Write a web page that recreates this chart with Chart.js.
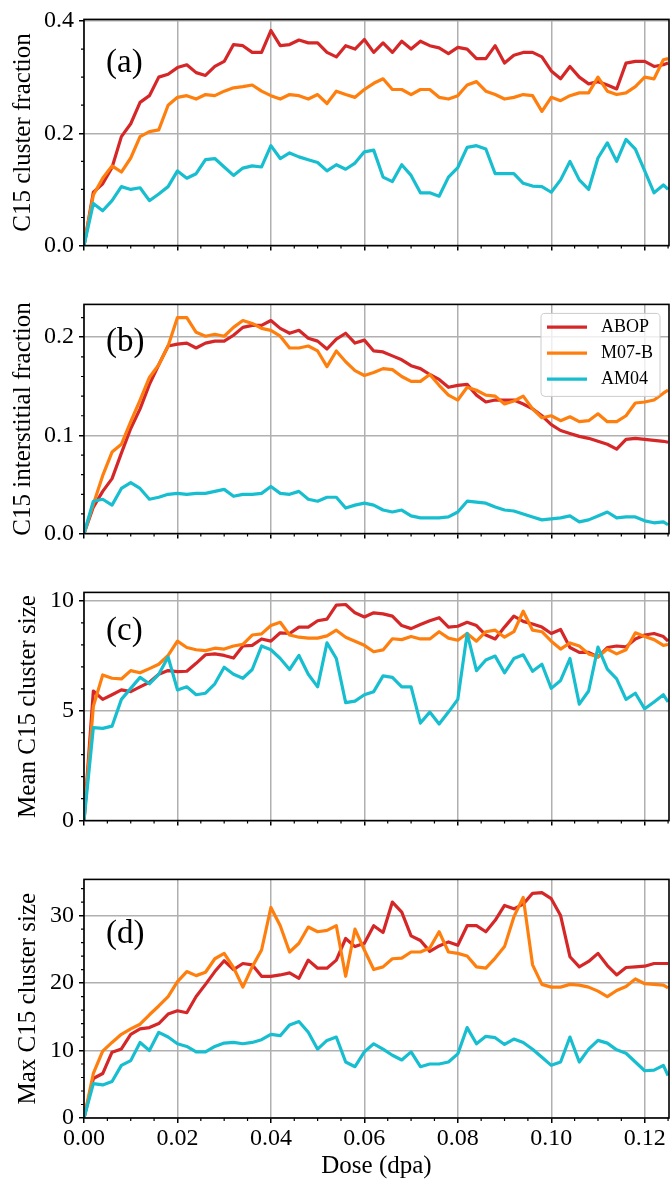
<!DOCTYPE html>
<html>
<head>
<meta charset="utf-8">
<script src="https://cdn.jsdelivr.net/npm/chart.js@4"></script>
<style>
  html, body { margin: 0; padding: 0; background: #fff; }
  #fig { position: relative; width: 670px; height: 1179px; }
  #fig canvas { position: absolute; left: 0; }
</style>
</head>
<body>
<div id="fig"></div>
<script>
// dose axis (dpa) shared by every panel
const dose = [0, 0.002, 0.004, 0.006, 0.008, 0.010, 0.012, 0.014, 0.016, 0.018,
  0.020, 0.022, 0.024, 0.026, 0.028, 0.030, 0.032, 0.034, 0.036, 0.038,
  0.040, 0.042, 0.044, 0.046, 0.048, 0.050, 0.052, 0.054, 0.056, 0.058,
  0.060, 0.062, 0.064, 0.066, 0.068, 0.070, 0.072, 0.074, 0.076, 0.078,
  0.080, 0.082, 0.084, 0.086, 0.088, 0.090, 0.092, 0.094, 0.096, 0.098,
  0.100, 0.102, 0.104, 0.106, 0.108, 0.110, 0.112, 0.114, 0.116, 0.118,
  0.120, 0.122, 0.124, 0.125];

const seriesNames = ['ABOP', 'M07-B', 'AM04'];
const seriesColors = ['#d62728', '#ff7f0e', '#17becf'];

// (a) C15 cluster fraction
const abopA = [0, 0.095, 0.11, 0.139, 0.194, 0.217, 0.255, 0.267, 0.3, 0.305,
  0.317, 0.322, 0.308, 0.303, 0.319, 0.328, 0.358, 0.356, 0.344, 0.344,
  0.383, 0.356, 0.358, 0.366, 0.361, 0.361, 0.344,
  0.336, 0.356, 0.35, 0.367, 0.344, 0.361, 0.344, 0.364, 0.35, 0.364,
  0.356, 0.352, 0.342, 0.353, 0.35, 0.333, 0.333, 0.356, 0.325, 0.339,
  0.344, 0.344, 0.336, 0.311, 0.297, 0.319, 0.3, 0.288, 0.292, 0.286,
  0.279, 0.325, 0.328, 0.328, 0.319, 0.322, 0.325];
const m07A = [0, 0.09, 0.12, 0.142, 0.131, 0.156, 0.194, 0.203, 0.206, 0.25,
  0.264, 0.267, 0.261, 0.269, 0.267, 0.275, 0.281, 0.283, 0.286, 0.275,
  0.267, 0.261, 0.269, 0.267, 0.261, 0.269, 0.253,
  0.275, 0.269, 0.264, 0.278, 0.289, 0.297, 0.278, 0.278, 0.269, 0.278,
  0.278, 0.264, 0.261, 0.267, 0.286, 0.292, 0.275, 0.269, 0.261, 0.264,
  0.269, 0.267, 0.239, 0.264, 0.258, 0.267, 0.272, 0.272, 0.3, 0.275,
  0.269, 0.272, 0.283, 0.3, 0.297, 0.331, 0.333];
const am04A = [0, 0.075, 0.062, 0.08, 0.105, 0.1, 0.103, 0.08, 0.092, 0.105,
  0.133, 0.12, 0.128, 0.153, 0.155, 0.14, 0.125, 0.138, 0.142, 0.14,
  0.178, 0.155, 0.165, 0.158, 0.153, 0.148, 0.133,
  0.144, 0.136, 0.147, 0.167, 0.17, 0.122, 0.114, 0.144, 0.125, 0.094,
  0.094, 0.088, 0.122, 0.139, 0.175, 0.178, 0.172, 0.128, 0.128, 0.128,
  0.111, 0.106, 0.105, 0.095, 0.117, 0.15, 0.117, 0.1, 0.156, 0.183,
  0.15, 0.189, 0.172, 0.133, 0.094, 0.108, 0.1];

// (b) C15 interstitial fraction
const abopB = [0, 0.027, 0.043, 0.056, 0.082, 0.107, 0.127, 0.152, 0.172, 0.191,
  0.193, 0.194, 0.189, 0.194, 0.196, 0.196, 0.202, 0.21, 0.212, 0.212,
  0.217, 0.209, 0.204, 0.207, 0.199, 0.196, 0.188,
  0.198, 0.204, 0.194, 0.197, 0.186, 0.185, 0.181, 0.177, 0.171, 0.168,
  0.162, 0.157, 0.149, 0.151, 0.152, 0.141, 0.134, 0.136, 0.136, 0.136,
  0.132, 0.127, 0.12, 0.111, 0.105, 0.102, 0.099, 0.097, 0.094, 0.091,
  0.086, 0.096, 0.097, 0.096, 0.095, 0.094, 0.093];
const m07B = [0, 0.03, 0.059, 0.083, 0.091, 0.114, 0.136, 0.159, 0.172, 0.191,
  0.22, 0.22, 0.205, 0.201, 0.203, 0.201, 0.21, 0.217, 0.214, 0.209,
  0.207, 0.201, 0.189, 0.189, 0.191, 0.186, 0.17,
  0.186, 0.175, 0.166, 0.161, 0.164, 0.168, 0.167, 0.16, 0.155, 0.155,
  0.162, 0.151, 0.141, 0.136, 0.149, 0.146, 0.141, 0.14, 0.132, 0.135,
  0.14, 0.127, 0.118, 0.12, 0.115, 0.119, 0.114, 0.115, 0.122, 0.114,
  0.114, 0.12, 0.133, 0.134, 0.136, 0.143, 0.146];
const am04B = [0, 0.033, 0.035, 0.029, 0.046, 0.052, 0.046, 0.035, 0.037, 0.04,
  0.041, 0.04, 0.041, 0.041, 0.043, 0.045, 0.038, 0.04, 0.04, 0.041,
  0.048, 0.041, 0.04, 0.043, 0.035, 0.033, 0.037,
  0.037, 0.026, 0.029, 0.031, 0.029, 0.024, 0.022, 0.024, 0.018, 0.016,
  0.016, 0.016, 0.017, 0.022, 0.033, 0.032, 0.031, 0.027, 0.024, 0.023,
  0.02, 0.017, 0.014, 0.015, 0.016, 0.018, 0.012, 0.014, 0.018, 0.022,
  0.016, 0.017, 0.017, 0.013, 0.011, 0.012, 0.009];

// (c) Mean C15 cluster size
const abopC = [0, 5.9, 5.52, 5.73, 5.95, 5.87, 6.09, 6.3, 6.66, 6.83,
  6.78, 6.8, 7.16, 7.55, 7.59, 7.52, 7.4, 7.95, 7.98, 8.27,
  8.17, 8.55, 8.52, 8.81, 8.81, 9.1, 9.17,
  9.81, 9.84, 9.46, 9.27, 9.46, 9.41, 9.31, 8.88, 8.74, 8.93,
  9.1, 9.24, 8.81, 8.85, 9.03, 8.88, 8.45, 8.27, 8.81, 9.31,
  9.07, 8.95, 8.81, 8.52, 8.7, 7.88, 7.66, 7.66, 7.45, 7.88,
  7.95, 7.91, 8.27, 8.45, 8.52, 8.38, 8.17];
const m07C = [0, 5.2, 6.63, 6.48, 6.45, 6.83, 6.73, 6.92, 7.12, 7.52,
  8.17, 7.88, 7.78, 7.74, 7.85, 7.81, 7.95, 8.02, 8.45, 8.5,
  8.88, 9.03, 8.45, 8.35, 8.31, 8.31, 8.41,
  8.67, 8.35, 8.17, 7.98, 7.69, 7.77, 8.28, 8.24, 8.38, 8.27,
  8.27, 8.6, 8.31, 8.21, 8.52, 8.17, 8.6, 8.67, 8.35, 8.6,
  9.53, 8.67, 8.6, 8.17, 7.81, 8.09, 7.95, 7.59, 7.45, 7.81,
  7.59, 7.78, 8.55, 8.38, 8.24, 7.98, 8.02];
const am04C = [0, 4.23, 4.2, 4.3, 5.52, 6.02, 6.52, 6.23, 6.66, 7.45,
  5.95, 6.09, 5.73, 5.8, 6.23, 6.98, 6.66, 6.48, 6.88, 7.95,
  7.78, 7.38, 6.88, 7.52, 6.66, 6.09, 8.09,
  7.38, 5.37, 5.44, 5.73, 5.87, 6.59, 6.52, 6.09, 6.09, 4.44,
  4.94, 4.4, 4.94, 5.52, 8.52, 6.83, 7.31, 7.49, 6.73, 7.38,
  7.55, 6.8, 7.12, 6.02, 6.38, 7.38, 5.3, 5.9, 7.9, 6.9,
  6.45, 5.52, 5.8, 5.09, 5.4, 5.73, 5.4];

// (d) Max C15 cluster size
const abopD = [0, 5.85, 6.59, 9.76, 10.24, 12.4, 13.2, 13.4, 14.0, 15.4,
  15.9, 15.6, 18.0, 19.8, 21.7, 23.3, 22.0, 22.9, 22.7, 21.0,
  21.0, 21.2, 21.5, 20.7, 23.4, 22.2, 22.2,
  23.4, 26.6, 25.4, 25.9, 28.5, 27.5, 32.0, 30.5, 27.0, 26.3,
  24.7, 25.5, 26.1, 25.6, 28.5, 28.5, 27.6, 29.3, 31.5, 31.0,
  31.7, 33.3, 33.4, 32.5, 30.0, 23.9, 22.4, 23.2, 24.4, 22.6,
  21.2, 22.3, 22.4, 22.5, 22.9, 22.9, 22.9];
const m07D = [0, 6.6, 9.9, 11.2, 12.4, 13.2, 13.9, 15.3, 16.6, 18.0,
  20.2, 21.7, 21.1, 21.6, 23.6, 24.4, 22.3, 19.4, 22.4, 24.9,
  31.2, 28.5, 24.6, 25.9, 28.3, 27.6, 27.8,
  28.5, 21.0, 28.0, 24.9, 22.0, 22.4, 23.6, 23.7, 24.6, 24.6,
  25.2, 27.6, 24.6, 24.4, 24.0, 22.4, 22.2, 23.7, 25.4, 29.8,
  32.7, 22.7, 19.8, 19.4, 19.4, 19.8, 19.7, 19.4, 18.8, 18.0,
  18.9, 19.5, 20.6, 19.9, 19.8, 19.7, 19.3];
const am04D = [0, 5.1, 4.9, 5.4, 7.8, 8.5, 11.2, 10.0, 12.7, 12.0,
  11.0, 10.6, 9.8, 9.8, 10.6, 11.1, 11.2, 11.0, 11.2, 11.6,
  12.4, 12.2, 13.8, 14.3, 12.7, 10.2, 11.5,
  12.0, 8.3, 7.6, 9.8, 11.0, 10.2, 9.3, 8.6, 9.8, 7.6,
  8.0, 8.0, 8.3, 9.5, 13.4, 11.0, 12.1, 11.9, 10.9, 11.7,
  11.2, 10.2, 9.0, 7.8, 8.3, 12.0, 8.3, 10.2, 11.5, 11.1,
  10.1, 9.6, 8.3, 7.0, 7.1, 7.8, 6.3];

// tick labels
const doseTicks = [0, 0.02, 0.04, 0.06, 0.08, 0.10, 0.12];
const ticksA = [0, 0.2, 0.4];
const ticksB = [0, 0.1, 0.2];
const ticksC = [0, 5, 10];
const ticksD = [0, 10, 20, 30];

const doseMax = 0.1252;
const SERIF = "'Liberation Serif', 'DejaVu Serif', serif";
Chart.defaults.font.family = SERIF;
Chart.defaults.color = '#000';

const panels = [
  { tag: '(a)', ylabel: 'C15 cluster fraction', values: [abopA, m07A, am04A], ticks: ticksA,
    ymax: 0.4028, digits: 1, minorStep: 0.05, minorEvery: 4,
    top: 0, height: 265, padTop: 15, xH: 8, titlePad: 8.6, tagDy: 44, legend: false },
  { tag: '(b)', ylabel: 'C15 interstitial fraction', values: [abopB, m07B, am04B], ticks: ticksB,
    ymax: 0.2334, digits: 1, minorStep: 0.02, minorEvery: 5,
    top: 285, height: 268, padTop: 18, xH: 8, titlePad: 8.6, tagDy: 38, legend: true },
  { tag: '(c)', ylabel: 'Mean C15 cluster size', values: [abopC, m07C, am04C], ticks: ticksC,
    ymax: 10.39, digits: 0, minorStep: 1, minorEvery: 5,
    top: 573, height: 267, padTop: 17, xH: 8, titlePad: 13.3, tagDy: 39, legend: false },
  { tag: '(d)', ylabel: 'Max C15 cluster size', values: [abopD, m07D, am04D], ticks: ticksD,
    ymax: 35.36, digits: 0, minorStep: 2, minorEvery: 5,
    top: 860, height: 319, padTop: 17, xH: 61, titlePad: 13.3, tagDy: 55, legend: false }
];

function roundedBox(ctx, x, y, w, h, r) {
  ctx.beginPath();
  ctx.moveTo(x + r, y);
  ctx.arcTo(x + w, y, x + w, y + h, r);
  ctx.arcTo(x + w, y + h, x, y + h, r);
  ctx.arcTo(x, y + h, x, y, r);
  ctx.arcTo(x, y, x + w, y, r);
  ctx.closePath();
}

// minor ticks, frame, panel tag and legend
const decoPlugin = {
  id: 'panelDeco',
  afterDraw(chart, args, o) {
    const { ctx, chartArea: a } = chart;
    const xs = chart.scales.x, ys = chart.scales.y;
    ctx.save();
    ctx.strokeStyle = '#000';
    ctx.lineWidth = 1.2;
    ctx.beginPath();
    for (let i = 1; i * 0.005 <= doseMax; i++) {
      if (i % 4 === 0) continue;
      const px = xs.getPixelForValue(i * 0.005);
      ctx.moveTo(px, a.bottom);
      ctx.lineTo(px, a.bottom + 3);
    }
    for (let i = 1; i * o.minorStep <= o.ymax; i++) {
      if (i % o.minorEvery === 0) continue;
      const py = ys.getPixelForValue(i * o.minorStep);
      ctx.moveTo(a.left, py);
      ctx.lineTo(a.left - 3, py);
    }
    ctx.stroke();

    ctx.lineWidth = 1.6;
    ctx.strokeRect(a.left, a.top, a.right - a.left, a.bottom - a.top);

    ctx.fillStyle = '#000';
    ctx.font = '33px ' + SERIF;
    ctx.textAlign = 'left';
    ctx.textBaseline = 'middle';
    ctx.fillText(o.tag, a.left + 22, a.top + o.tagDy);

    if (o.legend) {
      const w = 119, h = 83;
      const bx = a.right - 9 - w, by = a.top + 9;
      roundedBox(ctx, bx, by, w, h, 4);
      ctx.fillStyle = 'rgba(255,255,255,0.8)';
      ctx.fill();
      ctx.strokeStyle = '#cccccc';
      ctx.lineWidth = 1;
      ctx.stroke();
      ctx.font = '18px ' + SERIF;
      chart.data.datasets.forEach((ds, i) => {
        const cy = by + 13.7 + i * 26;
        ctx.strokeStyle = ds.borderColor;
        ctx.lineWidth = 3.2;
        ctx.beginPath();
        ctx.moveTo(bx + 6, cy);
        ctx.lineTo(bx + 46, cy);
        ctx.stroke();
        ctx.fillStyle = '#000';
        ctx.fillText(ds.label, bx + 60, cy);
      });
    }
    ctx.restore();
  }
};

const fig = document.getElementById('fig');
const gridOpts = { color: '#b0b0b0', lineWidth: 1.5, tickColor: '#000', tickWidth: 1.5, tickLength: 5 };

panels.forEach((p, idx) => {
  const cv = document.createElement('canvas');
  cv.width = 670;
  cv.height = p.height;
  cv.style.top = p.top + 'px';
  fig.appendChild(cv);
  const last = idx === panels.length - 1;

  new Chart(cv, {
    type: 'line',
    data: {
      datasets: p.values.map((vals, i) => ({
        label: seriesNames[i],
        data: dose.map((d, j) => ({ x: d, y: vals[j] })),
        borderColor: seriesColors[i],
        backgroundColor: seriesColors[i],
        borderWidth: 3.2,
        borderJoinStyle: 'round',
        pointRadius: 0,
        tension: 0,
        clip: 0,
        order: 3 - i
      }))
    },
    options: {
      responsive: false,
      animation: false,
      devicePixelRatio: 1,
      layout: { padding: { top: p.padTop, right: 1, left: 0, bottom: 0 } },
      plugins: {
        legend: { display: false },
        tooltip: { enabled: false },
        panelDeco: { tag: p.tag, tagDy: p.tagDy, minorStep: p.minorStep, minorEvery: p.minorEvery, ymax: p.ymax, legend: p.legend }
      },
      scales: {
        x: {
          type: 'linear', min: 0, max: doseMax, bounds: 'data',
          afterBuildTicks: s => { s.ticks = doseTicks.map(v => ({ value: v })); },
          afterFit: s => { s.height = p.xH; },
          ticks: { display: last, padding: 1, autoSkip: false, maxRotation: 0,
                   font: { size: 24, lineHeight: 1.2 }, callback: v => v.toFixed(2) },
          grid: gridOpts,
          border: { display: false },
          title: { display: last, text: 'Dose (dpa)', font: { size: 25, lineHeight: 1 },
                   padding: { top: 0, bottom: 0.5 } }
        },
        y: {
          type: 'linear', min: 0, max: p.ymax, bounds: 'data',
          afterBuildTicks: s => { s.ticks = p.ticks.map(v => ({ value: v })); },
          afterFit: s => { s.width = 84; },
          ticks: { padding: 5, font: { size: 24, lineHeight: 1.2 }, callback: v => v.toFixed(p.digits) },
          grid: gridOpts,
          border: { display: false },
          title: { display: true, text: p.ylabel, font: { size: 25, lineHeight: 1.2 },
                   padding: { top: p.titlePad, bottom: 0 } }
        }
      }
    },
    plugins: [decoPlugin]
  });
});
</script>
</body>
</html>
